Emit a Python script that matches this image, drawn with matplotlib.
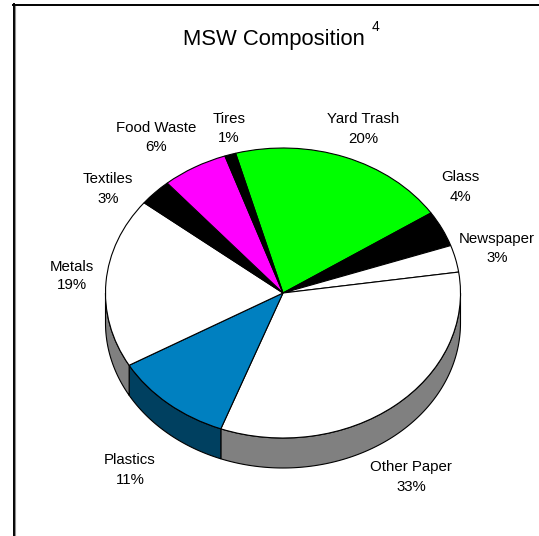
import numpy as np
import matplotlib
matplotlib.use('Agg')
import matplotlib.pyplot as plt
from matplotlib.patches import Polygon
from matplotlib.lines import Line2D

# ---- data ----
categories = ['Yard Trash', 'Glass', 'Newspaper', 'Other Paper', 'Plastics',
              'Metals', 'Textiles', 'Food Waste', 'Tires']
values = [20, 4, 3, 33, 11, 19, 3, 6, 1]
top_colors = ['#00FF00', '#000000', '#FFFFFF', '#FFFFFF', '#0080C0',
              '#FFFFFF', '#000000', '#FF00FF', '#000000']
side_colors = ['#008000', '#000000', '#808080', '#808080', '#004060',
               '#808080', '#000000', '#800080', '#000000']
title = 'MSW Composition'
title_sup = '4'

# ---- layout (pixels) ----
W, H = 539, 536
cx, cy, a, b, depth = 283, 293, 177.5, 145, 30
start_angle = 105.5
label_pos = {  # centre x, y of name line, y of percent line
    'Yard Trash': (363, 119, 139),
    'Glass': (460, 177, 197),
    'Newspaper': (497, 239, 258),
    'Other Paper': (411, 467, 487),
    'Plastics': (130, 460, 480),
    'Metals': (72, 267, 285),
    'Textiles': (108, 179, 199),
    'Food Waste': (156, 128, 147),
    'Tires': (229, 119, 138),
}
FONT = 'Liberation Sans'

fig = plt.figure(figsize=(W / 100, H / 100), dpi=100)
ax = fig.add_axes([0, 0, 1, 1])

ax.pie(values, colors=top_colors, startangle=start_angle, counterclock=False,
       radius=1, center=(0, 0),
       wedgeprops=dict(edgecolor='black', linewidth=0.8))
ax.set_aspect('auto')
ax.set_xlim(-cx / a, (W - cx) / a)
ax.set_ylim((cy - H) / b, cy / b)
ax.axis('off')

# side walls (front half of the pie)
d = depth / b
total = float(sum(values))
cum = np.concatenate([[0], np.cumsum(values)]) / total
for i, v in enumerate(values):
    hi = start_angle - 360 * cum[i]
    lo = start_angle - 360 * cum[i + 1]
    for k in (-1, 0, 1):
        s = max(lo, -180 + 360 * k)
        e = min(hi, 360 * k)
        if e > s:
            t = np.radians(np.linspace(s, e, 120))
            xs, ys = np.cos(t), np.sin(t)
            px = np.concatenate([xs, xs[::-1]])
            py = np.concatenate([ys, ys[::-1] - d])
            ax.add_patch(Polygon(np.column_stack([px, py]), closed=True,
                                 facecolor=side_colors[i], edgecolor='black',
                                 linewidth=0.8, zorder=0.5))

# labels
for name, v in zip(categories, values):
    x, y1, y2 = label_pos[name]
    fig.text(x / W, 1 - y1 / H, name, ha='center', va='center',
             fontsize=10.8, family=FONT)
    fig.text(x / W, 1 - y2 / H, f'{v}%', ha='center', va='center',
             fontsize=10.8, family=FONT)

# title
fig.text(274 / W, 1 - 45 / H, title, ha='center', va='baseline',
         fontsize=15.8, family=FONT)
fig.text(372 / W, 1 - 31 / H, title_sup, ha='left', va='baseline',
         fontsize=10, family=FONT)

# frame
fig.add_artist(Line2D([13.5 / W, 13.5 / W], [0, 1 - 4 / H], color='black',
                      lw=1.4, transform=fig.transFigure))
fig.add_artist(Line2D([15 / W, 15 / W], [0, 1 - 5.5 / H], color='#909090',
                      lw=0.8, transform=fig.transFigure))
fig.add_artist(Line2D([13 / W, 1], [1 - 4.5 / H, 1 - 4.5 / H], color='black',
                      lw=1.4, transform=fig.transFigure))

fig.savefig('out.png', dpi=100, facecolor='white')
